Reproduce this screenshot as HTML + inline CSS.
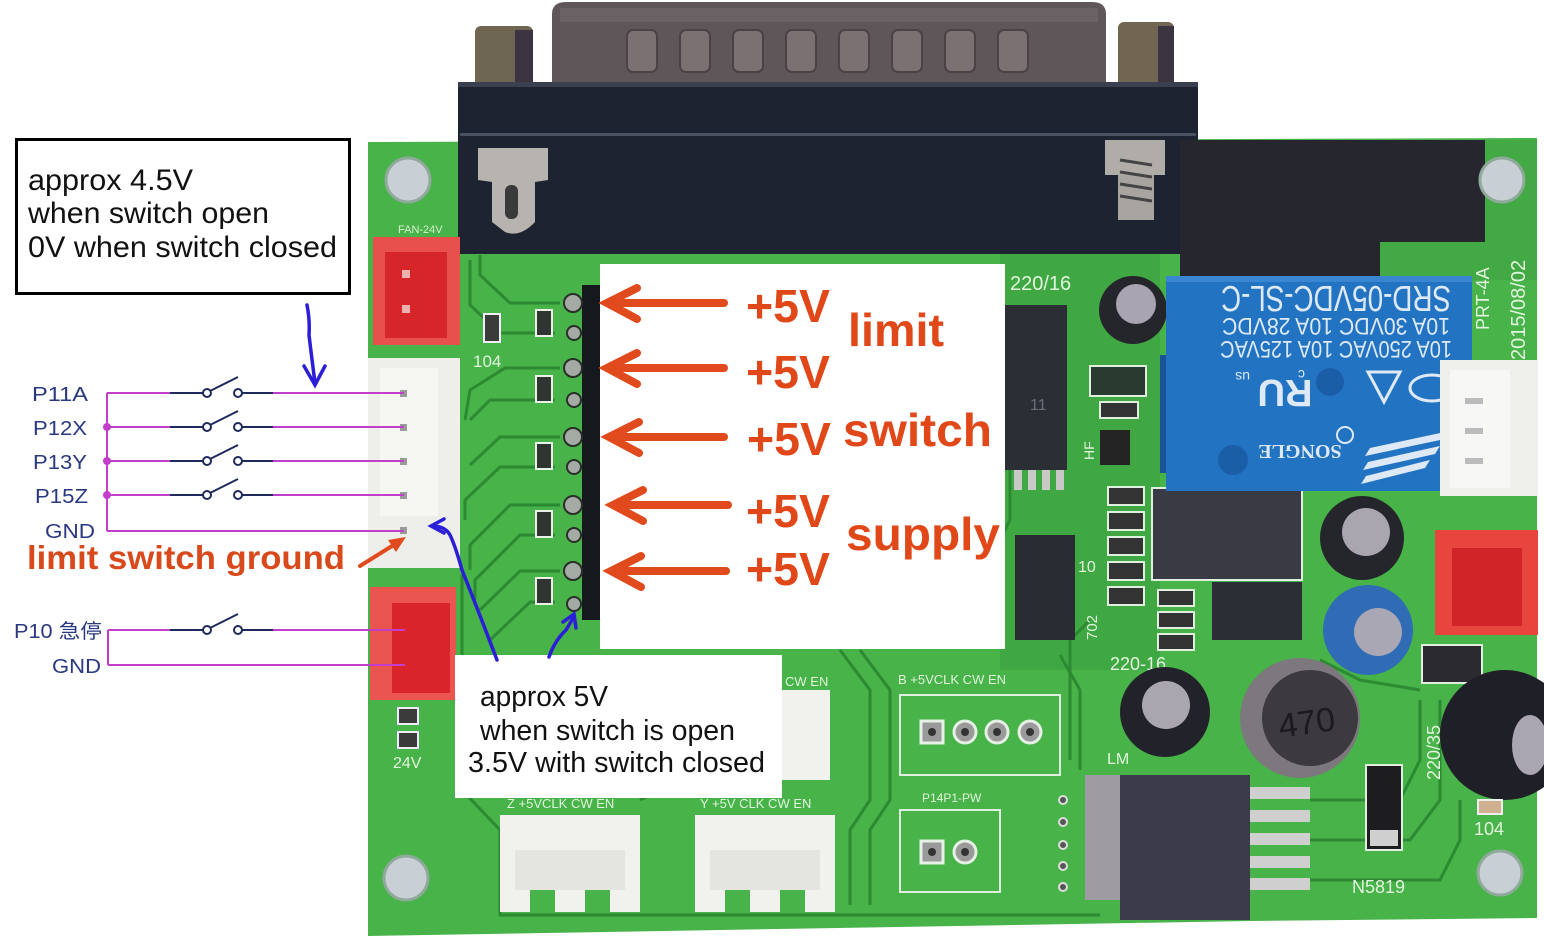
<!DOCTYPE html>
<html><head><meta charset="utf-8"><style>
html,body{margin:0;padding:0;background:#fff;}
svg{display:block;}
</style></head><body>
<svg width="1544" height="938" viewBox="0 0 1544 938" xmlns="http://www.w3.org/2000/svg" font-family="'Liberation Sans', Arial, sans-serif">
<rect width="1544" height="938" fill="#ffffff"/>

<!-- PCB board -->
<polygon points="368,142 1537,138 1537,918 1250,921 368,936" fill="#47b348"/>
<rect x="1000" y="250" width="160" height="420" fill="#40a843"/>
<rect x="1380" y="140" width="157" height="140" fill="#42a945"/>

<!-- traces -->
<g stroke="#2c8a33" stroke-width="3" fill="none">
<polyline points="560,303 510,303 480,275 480,255"/>
<polyline points="555,333 500,333 470,305 470,260"/>
<polyline points="560,368 505,368 470,390 465,420"/>
<polyline points="555,400 490,400 470,420"/>
<polyline points="560,437 500,437 470,465"/>
<polyline points="555,467 500,467 465,500 465,520"/>
<polyline points="560,505 510,505 470,545 470,570"/>
<polyline points="555,535 520,535 475,580 475,600"/>
<polyline points="560,571 520,571 480,610"/>
<polyline points="555,602 530,602 490,640"/>
<polyline points="462,575 462,790 500,830 500,915 1100,915"/>
<polyline points="840,650 870,690 870,800 850,830 850,905"/>
<polyline points="860,650 890,690 890,800 870,830 870,905"/>
<polyline points="640,800 680,780 780,780"/>
<polyline points="1060,655 1080,690 1080,770"/>
<polyline points="1070,760 1070,640 1090,620"/>
<polyline points="1310,800 1400,800 1420,760 1420,700"/>
<polyline points="1310,840 1410,840 1440,800 1440,700"/>
<polyline points="1310,880 1440,880 1460,840 1460,800"/>
<polyline points="1320,660 1360,680 1420,690"/>
<polyline points="1010,470 1010,520 1000,540"/>
</g>

<!-- DB25 connector -->
<rect x="475" y="26" width="58" height="62" rx="6" fill="#6f6553"/>
<rect x="515" y="30" width="18" height="58" fill="#3a3540"/>
<rect x="1118" y="22" width="56" height="66" rx="6" fill="#706652"/>
<rect x="1158" y="26" width="16" height="62" fill="#3a3540"/>
<path d="M552,82 L552,14 Q552,2 566,2 L1092,2 Q1106,2 1106,14 L1106,82 Z" fill="#5f5659"/>
<rect x="560" y="8" width="538" height="14" fill="#6b6265"/>
<g fill="#7b7072" stroke="#4a4245" stroke-width="2">
<rect x="627" y="30" width="30" height="42" rx="6"/>
<rect x="680" y="30" width="30" height="42" rx="6"/>
<rect x="733" y="30" width="30" height="42" rx="6"/>
<rect x="786" y="30" width="30" height="42" rx="6"/>
<rect x="839" y="30" width="30" height="42" rx="6"/>
<rect x="892" y="30" width="30" height="42" rx="6"/>
<rect x="945" y="30" width="30" height="42" rx="6"/>
<rect x="998" y="30" width="30" height="42" rx="6"/>
</g>
<rect x="458" y="82" width="740" height="172" fill="#1d2330"/>
<rect x="458" y="82" width="740" height="5" fill="#3a4050"/>
<rect x="460" y="133" width="736" height="3" fill="#4a5262"/>
<rect x="1180" y="140" width="305" height="102" fill="#26262f"/>
<rect x="1180" y="140" width="200" height="138" fill="#26262f"/>
<path d="M478,148 L548,148 L548,180 L535,182 L535,222 Q520,238 505,232 L492,222 L492,182 L478,180 Z" fill="#b7b3ae"/>
<rect x="505" y="185" width="13" height="34" rx="6" fill="#3a3a3a"/>
<rect x="1105" y="140" width="60" height="35" fill="#b0aca8"/>
<rect x="1118" y="175" width="36" height="45" fill="#a8a4a0"/>
<g stroke="#444" stroke-width="3"><line x1="1120" y1="160" x2="1152" y2="165"/><line x1="1120" y1="172" x2="1152" y2="177"/><line x1="1120" y1="184" x2="1152" y2="189"/><line x1="1120" y1="196" x2="1152" y2="201"/></g>

<!-- mounting holes -->
<g fill="#c8d0d6" stroke="#8fa99a" stroke-width="3">
<circle cx="408" cy="180" r="22"/>
<circle cx="1502" cy="180" r="22"/>
<circle cx="406" cy="878" r="22"/>
<circle cx="1500" cy="873" r="22"/>
</g>

<!-- silkscreen text -->
<g fill="#d6f0d2" font-size="11">
<text x="398" y="233">FAN-24V</text>
</g>
<g fill="#e2f5de" font-size="17">
<text x="473" y="367">104</text>
<text x="1010" y="290" font-size="20">220/16</text>
<text x="1110" y="670" font-size="18">220-16</text>
<text x="1107" y="764" font-size="16">LM</text>
<text x="1352" y="893" font-size="18">N5819</text>
<text x="1474" y="835" font-size="18">104</text>
<text x="393" y="768" font-size="16">24V</text>
<text x="898" y="684" font-size="13">B  +5VCLK  CW   EN</text>
<text x="922" y="802" font-size="12">P14P1-PW</text>
<text x="507" y="808" font-size="13">Z +5VCLK  CW   EN</text>
<text x="700" y="808" font-size="13">Y +5V CLK  CW   EN</text>
<text x="785" y="686" font-size="13">CW   EN</text>
<text transform="translate(1440,780) rotate(-90)" font-size="18">220/35</text>
<text transform="translate(1489,330) rotate(-90)" font-size="18">PRT-4A</text>
<text transform="translate(1525,360) rotate(-90)" font-size="20">2015/08/02</text>
<text x="1078" y="572" font-size="16">10</text>
<text transform="translate(1097,640) rotate(-90)" font-size="15">702</text>
<text transform="translate(1094,460) rotate(-90)" font-size="14">HF</text>
</g>

<!-- red connectors -->
<rect x="373" y="237" width="87" height="108" fill="#e8504c"/>
<rect x="385" y="252" width="62" height="86" fill="#d6262a"/>
<rect x="402" y="270" width="8" height="8" fill="#f1b0b0"/>
<rect x="402" y="305" width="8" height="8" fill="#f1b0b0"/>
<rect x="370" y="587" width="86" height="113" fill="#ea5550"/>
<rect x="392" y="603" width="58" height="90" fill="#d8242a"/>
<rect x="1435" y="530" width="103" height="105" fill="#e8453f"/>
<rect x="1452" y="548" width="70" height="78" fill="#d02428"/>

<!-- white 5-pin connector -->
<rect x="368" y="358" width="92" height="210" fill="#eeeeea"/>
<rect x="380" y="368" width="58" height="148" fill="#f6f6f3"/>
<g fill="#9a9a9a">
<rect x="400" y="390" width="7" height="7"/><rect x="400" y="424" width="7" height="7"/>
<rect x="400" y="458" width="7" height="7"/><rect x="400" y="492" width="7" height="7"/>
<rect x="400" y="527" width="7" height="7"/>
</g>

<g fill="#3b3b3b" stroke="#eef" stroke-width="2">
<rect x="484" y="314" width="16" height="28"/>
<rect x="398" y="708" width="20" height="16"/>
<rect x="398" y="732" width="20" height="16"/>
</g>
<g fill="#303432" stroke="#e8f3e6" stroke-width="2">
<rect x="536" y="310" width="16" height="26"/>
<rect x="536" y="376" width="16" height="26"/>
<rect x="536" y="443" width="16" height="26"/>
<rect x="536" y="511" width="16" height="26"/>
<rect x="536" y="578" width="16" height="26"/>
</g>
<rect x="582" y="285" width="22" height="335" fill="#15181c"/>
<g fill="#a4aaa4" stroke="#2a2f2a" stroke-width="2">
<circle cx="573" cy="303" r="9"/><circle cx="573" cy="368" r="9"/><circle cx="573" cy="437" r="9"/>
<circle cx="573" cy="505" r="9"/><circle cx="573" cy="571" r="9"/>
<circle cx="574" cy="333" r="7"/><circle cx="574" cy="400" r="7"/><circle cx="574" cy="467" r="7"/>
<circle cx="574" cy="535" r="7"/><circle cx="574" cy="604" r="7"/>
</g>

<!-- right-side components -->
<circle cx="1133" cy="310" r="34" fill="#25252c"/>
<circle cx="1136" cy="304" r="20" fill="#a9a4b2"/>
<rect x="1005" y="305" width="62" height="165" fill="#2b2e35"/>
<g fill="#c8c8c8"><rect x="1014" y="470" width="8" height="20"/><rect x="1028" y="470" width="8" height="20"/><rect x="1042" y="470" width="8" height="20"/><rect x="1056" y="470" width="8" height="20"/></g>
<text x="1030" y="410" fill="#6a6e78" font-size="16">11</text>
<rect x="1090" y="366" width="56" height="30" fill="#2b3a30" stroke="#e0f0e0" stroke-width="2"/>
<rect x="1100" y="402" width="38" height="16" fill="#333" stroke="#e0f0e0" stroke-width="2"/>
<rect x="1100" y="430" width="30" height="35" fill="#242424"/>
<g fill="#333" stroke="#e0f0e0" stroke-width="2">
<rect x="1108" y="487" width="36" height="18"/><rect x="1108" y="512" width="36" height="18"/>
<rect x="1108" y="537" width="36" height="18"/><rect x="1108" y="562" width="36" height="18"/>
<rect x="1108" y="587" width="36" height="18"/>
<rect x="1158" y="590" width="36" height="16"/><rect x="1158" y="612" width="36" height="16"/>
<rect x="1158" y="634" width="36" height="16"/>
</g>
<rect x="1015" y="535" width="60" height="105" fill="#2a2c33"/>
<rect x="1152" y="488" width="150" height="92" fill="#3a3a44" stroke="#e0f0e0" stroke-width="2"/>
<rect x="1212" y="582" width="90" height="58" fill="#2c2e36"/>

<!-- relay -->
<rect x="1160" y="355" width="45" height="118" fill="#1a5597"/>
<rect x="1166" y="276" width="306" height="215" fill="#2373c3"/>
<rect x="1166" y="276" width="306" height="6" fill="#3a86d0"/>
<g fill="#dde9f6">
<text transform="translate(1336,286) rotate(180)" text-anchor="middle" font-size="36" textLength="230" lengthAdjust="spacingAndGlyphs">SRD-05VDC-SL-C</text>
<text transform="translate(1336,318) rotate(180)" text-anchor="middle" font-size="24" textLength="228" lengthAdjust="spacingAndGlyphs">10A  30VDC  10A  28VDC</text>
<text transform="translate(1336,341) rotate(180)" text-anchor="middle" font-size="24" textLength="232" lengthAdjust="spacingAndGlyphs">10A 250VAC 10A 125VAC</text>
<text transform="translate(1285,380) rotate(180)" text-anchor="middle" font-size="38" font-weight="bold">RU</text>
<text transform="translate(1250,372) rotate(180)" font-size="14">us</text>
<text transform="translate(1305,370) rotate(180)" font-size="14">c</text>
<text transform="translate(1300,445) rotate(180)" text-anchor="middle" font-size="20" font-family="'Liberation Serif', serif" font-weight="bold">SONGLE</text>
<polygon points="1370,448 1445,432 1440,440 1365,456"/>
<polygon points="1368,462 1440,446 1435,454 1363,470"/>
<polygon points="1366,476 1430,460 1425,468 1361,484"/>
</g>
<circle cx="1330" cy="382" r="14" fill="#1b5ea8"/>
<circle cx="1233" cy="460" r="15" fill="#1b5ea8"/>
<polygon points="1368,372 1400,372 1384,402" fill="none" stroke="#dde9f6" stroke-width="3"/>
<ellipse cx="1432" cy="388" rx="22" ry="13" fill="none" stroke="#dde9f6" stroke-width="3"/>
<circle cx="1345" cy="435" r="8" fill="none" stroke="#dde9f6" stroke-width="2"/>

<rect x="1440" y="360" width="98" height="136" fill="#efefec"/>
<rect x="1450" y="370" width="60" height="118" fill="#f7f7f5"/>
<g fill="#bbb"><rect x="1465" y="398" width="18" height="6"/><rect x="1465" y="428" width="18" height="6"/><rect x="1465" y="458" width="18" height="6"/></g>

<!-- caps -->
<circle cx="1362" cy="538" r="42" fill="#25252c"/>
<circle cx="1366" cy="532" r="24" fill="#aaa6b0"/>
<circle cx="1368" cy="630" r="45" fill="#2f6cb5"/>
<circle cx="1378" cy="632" r="24" fill="#a9a7b4"/>
<circle cx="1165" cy="712" r="45" fill="#22222a"/>
<circle cx="1166" cy="705" r="24" fill="#aaa6b0"/>
<circle cx="1300" cy="718" r="60" fill="#7d787d"/>
<circle cx="1310" cy="718" r="48" fill="#3c393f"/>
<text x="1278" y="735" fill="#1c1a1e" font-size="34" transform="rotate(-8 1300 720)">470</text>
<rect x="1422" y="645" width="60" height="38" fill="#2a2a2f" stroke="#e0f0e0" stroke-width="2"/>
<circle cx="1505" cy="735" r="65" fill="#1f1f27"/>
<ellipse cx="1530" cy="745" rx="18" ry="30" fill="#a9a6b1"/>
<rect x="1366" y="765" width="36" height="85" fill="#1d1d1f" stroke="#e0f0e0" stroke-width="2"/>
<rect x="1370" y="830" width="28" height="16" fill="#cfcfcf"/>
<rect x="1478" y="800" width="24" height="14" fill="#cfb090" stroke="#eee" stroke-width="2"/>

<!-- LM2576 -->
<rect x="1085" y="775" width="40" height="125" fill="#9e9ba2"/>
<rect x="1120" y="775" width="130" height="145" fill="#3b3a48"/>
<g fill="#cfcfcf"><rect x="1250" y="787" width="60" height="12"/><rect x="1250" y="810" width="60" height="12"/><rect x="1250" y="833" width="60" height="12"/><rect x="1250" y="856" width="60" height="12"/><rect x="1250" y="878" width="60" height="12"/></g>
<g fill="#555" stroke="#ddd" stroke-width="2"><circle cx="1063" cy="800" r="4"/><circle cx="1063" cy="822" r="4"/><circle cx="1063" cy="845" r="4"/><circle cx="1063" cy="866" r="4"/><circle cx="1063" cy="887" r="4"/></g>

<!-- bottom components -->
<rect x="900" y="695" width="160" height="80" fill="none" stroke="#e0f0e0" stroke-width="2"/>
<g fill="#9a9a9a" stroke="#e6f0e6" stroke-width="3">
<rect x="921" y="721" width="22" height="22"/><circle cx="965" cy="732" r="11"/><circle cx="997" cy="732" r="11"/><circle cx="1030" cy="732" r="11"/>
<rect x="921" y="841" width="22" height="22"/><circle cx="965" cy="852" r="11"/>
</g>
<g fill="#333"><circle cx="932" cy="732" r="4"/><circle cx="965" cy="732" r="4"/><circle cx="997" cy="732" r="4"/><circle cx="1030" cy="732" r="4"/><circle cx="932" cy="852" r="4"/><circle cx="965" cy="852" r="4"/></g>
<rect x="900" y="810" width="100" height="82" fill="none" stroke="#e0f0e0" stroke-width="2"/>
<rect x="780" y="690" width="50" height="90" fill="#f1f1ee"/>
<rect x="500" y="815" width="140" height="75" fill="#f1f1ee"/>
<rect x="500" y="890" width="30" height="22" fill="#f1f1ee"/><rect x="555" y="890" width="30" height="22" fill="#f1f1ee"/><rect x="610" y="890" width="30" height="22" fill="#f1f1ee"/>
<rect x="515" y="850" width="110" height="40" fill="#e4e4e0"/>
<rect x="695" y="815" width="140" height="75" fill="#f1f1ee"/>
<rect x="695" y="890" width="30" height="22" fill="#f1f1ee"/><rect x="750" y="890" width="30" height="22" fill="#f1f1ee"/><rect x="805" y="890" width="30" height="22" fill="#f1f1ee"/>
<rect x="710" y="850" width="110" height="40" fill="#e4e4e0"/>

<!-- big white label box -->
<rect x="600" y="264" width="405" height="385" fill="#ffffff"/>
<g stroke="#e14a1c" stroke-width="8" fill="none" stroke-linecap="round">
<line x1="608" y1="303" x2="724" y2="303"/><polyline points="637,288 607,303 637,319"/>
<line x1="608" y1="368" x2="724" y2="368"/><polyline points="637,353 607,368 637,384"/>
<line x1="610" y1="437" x2="724" y2="437"/><polyline points="639,422 609,437 639,453"/>
<line x1="614" y1="505" x2="728" y2="505"/><polyline points="643,490 613,505 643,521"/>
<line x1="612" y1="571" x2="726" y2="571"/><polyline points="641,556 611,571 641,587"/>
</g>
<g fill="#e04819" font-weight="bold" font-size="46">
<text x="746" y="322" textLength="84" lengthAdjust="spacingAndGlyphs">+5V</text>
<text x="746" y="388" textLength="84" lengthAdjust="spacingAndGlyphs">+5V</text>
<text x="747" y="455" textLength="84" lengthAdjust="spacingAndGlyphs">+5V</text>
<text x="746" y="527" textLength="84" lengthAdjust="spacingAndGlyphs">+5V</text>
<text x="746" y="585" textLength="84" lengthAdjust="spacingAndGlyphs">+5V</text>
<text x="848" y="346" textLength="96" lengthAdjust="spacingAndGlyphs">limit</text>
<text x="843" y="446" textLength="149" lengthAdjust="spacingAndGlyphs">switch</text>
<text x="846" y="550" textLength="154" lengthAdjust="spacingAndGlyphs">supply</text>
</g>

<!-- lower white box -->
<rect x="455" y="655" width="327" height="143" fill="#ffffff"/>
<g fill="#111" font-size="29">
<text x="480" y="706" textLength="128" lengthAdjust="spacingAndGlyphs">approx 5V</text>
<text x="480" y="740" textLength="255" lengthAdjust="spacingAndGlyphs">when switch is open</text>
<text x="468" y="772" textLength="297" lengthAdjust="spacingAndGlyphs">3.5V with switch closed</text>
</g>

<!-- top-left annotation box -->
<rect x="16.5" y="139.5" width="333" height="154" fill="#fff" stroke="#000" stroke-width="3"/>
<g fill="#111" font-size="30">
<text x="28" y="190" textLength="165" lengthAdjust="spacingAndGlyphs">approx 4.5V</text>
<text x="28" y="223" textLength="241" lengthAdjust="spacingAndGlyphs">when switch open</text>
<text x="28" y="257" textLength="309" lengthAdjust="spacingAndGlyphs">0V when switch closed</text>
</g>

<!-- schematic -->
<g stroke="#c23fcc" stroke-width="2" fill="none">
<line x1="107" y1="393" x2="107" y2="531"/>
<line x1="107" y1="393" x2="170" y2="393"/><line x1="273" y1="393" x2="404" y2="393"/>
<line x1="107" y1="427" x2="170" y2="427"/><line x1="273" y1="427" x2="404" y2="427"/>
<line x1="107" y1="461" x2="170" y2="461"/><line x1="273" y1="461" x2="404" y2="461"/>
<line x1="107" y1="495" x2="170" y2="495"/><line x1="273" y1="495" x2="404" y2="495"/>
<line x1="107" y1="531" x2="404" y2="531"/>
<line x1="108" y1="630" x2="108" y2="665"/>
<line x1="108" y1="630" x2="170" y2="630"/><line x1="273" y1="630" x2="405" y2="630"/>
<line x1="108" y1="665" x2="405" y2="665"/>
</g>
<g fill="#c23fcc"><circle cx="107" cy="427" r="4"/><circle cx="107" cy="461" r="4"/><circle cx="107" cy="495" r="4"/></g>
<g stroke="#1f2a5c" stroke-width="2" fill="#fff">
<g><line x1="170" y1="393" x2="203" y2="393"/><circle cx="207" cy="393" r="4"/><line x1="210" y1="391" x2="238" y2="377"/><circle cx="238" cy="393" r="4"/><line x1="242" y1="393" x2="273" y2="393"/></g>
<g transform="translate(0,34)"><line x1="170" y1="393" x2="203" y2="393"/><circle cx="207" cy="393" r="4"/><line x1="210" y1="391" x2="238" y2="377"/><circle cx="238" cy="393" r="4"/><line x1="242" y1="393" x2="273" y2="393"/></g>
<g transform="translate(0,68)"><line x1="170" y1="393" x2="203" y2="393"/><circle cx="207" cy="393" r="4"/><line x1="210" y1="391" x2="238" y2="377"/><circle cx="238" cy="393" r="4"/><line x1="242" y1="393" x2="273" y2="393"/></g>
<g transform="translate(0,102)"><line x1="170" y1="393" x2="203" y2="393"/><circle cx="207" cy="393" r="4"/><line x1="210" y1="391" x2="238" y2="377"/><circle cx="238" cy="393" r="4"/><line x1="242" y1="393" x2="273" y2="393"/></g>
<g transform="translate(0,237)"><line x1="170" y1="393" x2="203" y2="393"/><circle cx="207" cy="393" r="4"/><line x1="210" y1="391" x2="238" y2="377"/><circle cx="238" cy="393" r="4"/><line x1="242" y1="393" x2="273" y2="393"/></g>
</g>
<g fill="#2a3880" font-size="20">
<text x="32" y="401" textLength="56" lengthAdjust="spacingAndGlyphs">P11A</text>
<text x="33" y="435" textLength="54" lengthAdjust="spacingAndGlyphs">P12X</text>
<text x="33" y="469" textLength="54" lengthAdjust="spacingAndGlyphs">P13Y</text>
<text x="35" y="503" textLength="53" lengthAdjust="spacingAndGlyphs">P15Z</text>
<text x="45" y="538" textLength="50" lengthAdjust="spacingAndGlyphs">GND</text>
<text x="14" y="638" font-family="'Liberation Sans','Noto Sans CJK SC',sans-serif" textLength="88" lengthAdjust="spacingAndGlyphs">P10 急停</text>
<text x="52" y="673" textLength="49" lengthAdjust="spacingAndGlyphs">GND</text>
</g>

<text x="27" y="569" fill="#d84a1c" font-weight="bold" font-size="33" textLength="318" lengthAdjust="spacingAndGlyphs">limit switch ground</text>
<line x1="360" y1="566" x2="400" y2="541" stroke="#e04a1c" stroke-width="4" stroke-linecap="round"/>
<polygon points="406,537 388,540 396,552" fill="#e04a1c"/>

<!-- blue arrows -->
<g stroke="#2b1ed8" stroke-width="3.5" fill="none" stroke-linecap="round">
<path d="M307,305 Q310,320 309,335 Q312,360 315,383"/>
<polyline points="304,366 315,385 325,366"/>
<path d="M497,660 Q478,610 462,570 Q455,545 450,535 Q445,526 432,526"/>
<polyline points="444,519 431,526 444,533"/>
<path d="M549,657 Q555,640 566,630 Q571,622 574,616"/>
<polyline points="563,622 574,614 576,628"/>
</g>
</svg>
</body></html>
